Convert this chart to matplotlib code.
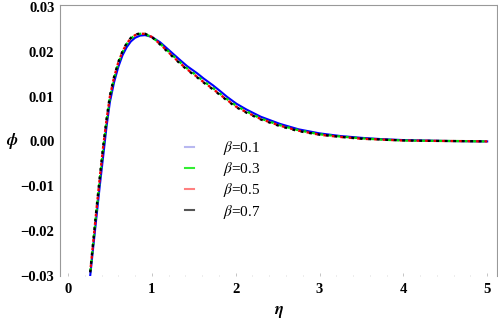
import matplotlib
matplotlib.use("Agg")
import matplotlib.pyplot as plt
from matplotlib.lines import Line2D

# eta grid shared by all curves
eta = [0.265, 0.30, 0.34, 0.38, 0.42, 0.46, 0.50, 0.55, 0.60, 0.65, 0.70, 0.75,
       0.80, 0.86, 0.92, 1.00, 1.10, 1.22, 1.34, 1.42, 1.54, 1.62, 1.73, 1.81,
       1.90, 2.01, 2.13, 2.30, 2.53, 2.75, 3.00, 3.25, 3.50, 3.75, 4.00, 4.50, 5.00]

phi_01 = [-0.0300, -0.0238, -0.0168, -0.0098, -0.0033, 0.0033, 0.0088, 0.0132,
          0.0166, 0.0192, 0.0210, 0.0223, 0.0231, 0.0236, 0.0237, 0.0233, 0.0221,
          0.0201, 0.0181, 0.0168, 0.0152, 0.0140, 0.0125, 0.0113, 0.0099, 0.0084,
          0.0071, 0.0055, 0.0039, 0.0027, 0.0018, 0.0012, 0.0008, 0.0005, 0.0003,
          0.0001, 0.0000]
phi_03 = [-0.0295, -0.0230, -0.0156, -0.0084, -0.0017, 0.0044, 0.0097, 0.0140,
          0.0174, 0.0199, 0.0217, 0.0229, 0.0237, 0.0240, 0.0239, 0.0233, 0.0218,
          0.0197, 0.0176, 0.0163, 0.0146, 0.0134, 0.0119, 0.0107, 0.0094, 0.0079,
          0.0067, 0.0051, 0.0036, 0.0025, 0.0016, 0.0011, 0.0007, 0.0004, 0.0002,
          0.0001, 0.0000]
phi_05 = [-0.0293, -0.0227, -0.0152, -0.0080, -0.0012, 0.0048, 0.0100, 0.0143,
          0.0176, 0.0200, 0.0218, 0.0230, 0.0237, 0.0240, 0.0240, 0.0233, 0.0217,
          0.0195, 0.0174, 0.0161, 0.0144, 0.0132, 0.0117, 0.0105, 0.0092, 0.0077,
          0.0065, 0.0050, 0.0035, 0.0024, 0.0015, 0.0010, 0.0006, 0.0004, 0.0002,
          0.0001, 0.0000]
phi_07 = [-0.0292, -0.0225, -0.0150, -0.0078, -0.0010, 0.0050, 0.0102, 0.0144,
          0.0177, 0.0201, 0.0219, 0.0231, 0.0238, 0.0241, 0.0240, 0.0233, 0.0216,
          0.0194, 0.0173, 0.0160, 0.0143, 0.0131, 0.0116, 0.0104, 0.0091, 0.0076,
          0.0064, 0.0049, 0.0034, 0.0023, 0.0015, 0.0010, 0.0006, 0.0004, 0.0002,
          0.0001, 0.0000]

labels = [r"$\beta$=0.1", r"$\beta$=0.3", r"$\beta$=0.5", r"$\beta$=0.7"]
xticks = [0, 1, 2, 3, 4, 5]
yticks = [-0.03, -0.02, -0.01, 0.00, 0.01, 0.02, 0.03]
ytick_labels = ["\u22120.03", "\u22120.02", "\u22120.01", "0.00", "0.01", "0.02", "0.03"]

plt.rcParams['font.family'] = ['Liberation Serif', 'DejaVu Serif']
plt.rcParams['mathtext.fontset'] = 'stix'

fig = plt.figure(figsize=(4.98, 3.19), dpi=100)
ax = fig.add_axes([0.1205, 0.135, 0.878, 0.849])

# 实线 + 三条交错的虚线
ax.plot(eta, phi_01, color='#0000ff', lw=1.5)
ax.plot(eta, phi_03, color='#00dd00', lw=1.7, linestyle=(2.4, (1.2, 2.4)))
ax.plot(eta, phi_05, color='#ee0000', lw=1.7, linestyle=(1.2, (1.2, 2.4)))
ax.plot(eta, phi_07, color='black', lw=1.7, linestyle=(0, (1.2, 2.4)))

ax.set_xlim(-0.095, 5.12)
ax.set_ylim(-0.03, 0.0304)
ax.set_xticks(xticks)
ax.set_xticklabels([str(t) for t in xticks], fontweight='bold', fontsize=10.5)
ax.set_yticks(yticks)
ax.set_yticklabels(ytick_labels, fontweight='bold', fontsize=10.5)
ax.set_xticks([i * 0.2 for i in range(26)], minor=True)
ax.tick_params(direction='in', length=2, width=0.6, color='#bbbbbb', pad=5)
ax.tick_params(which='minor', direction='in', length=1, width=0.5, color='#cccccc')
ax.tick_params(axis='y', length=0, pad=4)

for side in ['left', 'top', 'right']:
    ax.spines[side].set_color('#999999')
    ax.spines[side].set_linewidth(0.8)
ax.spines['bottom'].set_visible(False)

ax.set_xlabel(r"$\boldsymbol{\eta}$", fontsize=12, labelpad=6)
ax.set_ylabel(r"$\boldsymbol{\phi}$", fontsize=12, rotation=0, va='center', ha='center')
ax.yaxis.set_label_coords(-0.11, 0.5)

handles = [Line2D([], [], color='#b8b8f0', lw=1.5),
           Line2D([], [], color='#33ee33', lw=1.5),
           Line2D([], [], color='#ff8080', lw=1.5),
           Line2D([], [], color='#555555', lw=1.5)]
ax.legend(handles, labels, loc='upper left', bbox_to_anchor=(0.255, 0.555),
          frameon=False, handlelength=0.6, handletextpad=1.9, labelspacing=0.2,
          fontsize=11)

fig.savefig("out.png", dpi=100)
